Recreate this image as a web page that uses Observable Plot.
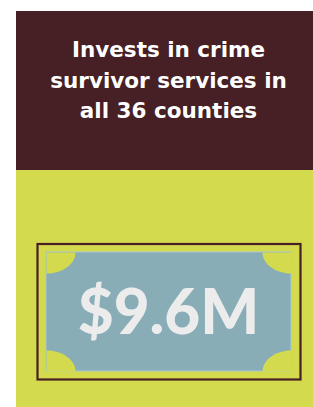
<!DOCTYPE html>
<html>
<head>
<meta charset="utf-8">
<script src="https://cdn.jsdelivr.net/npm/d3@7"></script>
<script src="https://cdn.jsdelivr.net/npm/@observablehq/plot@0.6"></script>
<style>
  html, body { margin: 0; padding: 0; background: #ffffff; }
  svg { display: block; }
</style>
</head>
<body>
<div id="chart"></div>
<script>
// Data
const titleLines = ["Invests in crime", "survivor services in", "all 36 counties"];
const amountValues = [9.6];
const amountUnit = "M";

// Palette
const maroon = "#462024";
const green = "#d4da4e";
const blue = "#89adb6";
const textLight = "#ececec";

const W = 313, H = 407;

// Layout (in pixel units of the x/y identity scales)
const panel = {x1: 16, x2: 313};
const topBox = {y1: 11, y2: 170};
const bill = {x1: 37.5, x2: 300.5, y1: 244, y2: 379.5};
const note = {x1: 46, x2: 291, y1: 252, y2: 371};
const cornerR = {rx: 29, ry: 21};

// Corner quarter-ellipse shapes (geometry of the bill decoration)
const corners = [
  {id: "tl", cx: note.x1, cy: note.y1, a0: 0, a1: 90},
  {id: "tr", cx: note.x2, cy: note.y1, a0: 90, a1: 180},
  {id: "br", cx: note.x2, cy: note.y2, a0: 180, a1: 270},
  {id: "bl", cx: note.x1, cy: note.y2, a0: 270, a1: 360}
];
const cornerPts = [];
for (const c of corners) {
  cornerPts.push({id: c.id, x: c.cx, y: c.cy});
  for (let a = c.a0; a <= c.a1; a += 5) {
    const t = a * Math.PI / 180;
    cornerPts.push({id: c.id, x: c.cx + cornerR.rx * Math.cos(t), y: c.cy + cornerR.ry * Math.sin(t)});
  }
  cornerPts.push({id: c.id, x: c.cx, y: c.cy});
}

const titleFont = 21.5;
const titleBaselines = [56.7, 87, 117.3];

const chart = Plot.plot({
  width: W,
  height: H,
  margin: 0,
  x: {domain: [0, W], range: [0, W], axis: null},
  y: {domain: [0, H], range: [0, H], axis: null},
  style: {background: "#ffffff", fontFamily: "Lato, 'Open Sans', sans-serif"},
  marks: [
    Plot.rect([0], {x1: panel.x1, x2: panel.x2, y1: topBox.y1, y2: topBox.y2, fill: maroon}),
    Plot.rect([0], {x1: panel.x1, x2: panel.x2, y1: topBox.y2, y2: H, fill: green}),
    Plot.rect([0], {x1: bill.x1, x2: bill.x2, y1: bill.y1, y2: bill.y2, fill: "none", stroke: maroon, strokeWidth: 2.2}),
    Plot.rect([0], {x1: note.x1, x2: note.x2, y1: note.y1, y2: note.y2, fill: blue, stroke: "#a9c8d6", strokeWidth: 1}),
    Plot.line(cornerPts, {x: "x", y: "y", z: "id", fill: green, stroke: "none", curve: "linear"}),
    Plot.text(titleLines, {
      x: 168,
      y: (d, i) => titleBaselines[i] - 0.32 * titleFont,
      text: d => d,
      fill: "#ffffff",
      fontSize: titleFont,
      fontWeight: 700,
      fontFamily: "'DejaVu Sans', sans-serif",
      textAnchor: "middle"
    }),
    Plot.text(amountValues, {
      x: 168,
      y: 333 - 0.32 * 62,
      text: d => `$${d}${amountUnit}`,
      fill: textLight,
      fontSize: 62,
      fontWeight: 900,
      textAnchor: "middle"
    })
  ]
});
document.getElementById("chart").appendChild(chart);
</script>
</body>
</html>
